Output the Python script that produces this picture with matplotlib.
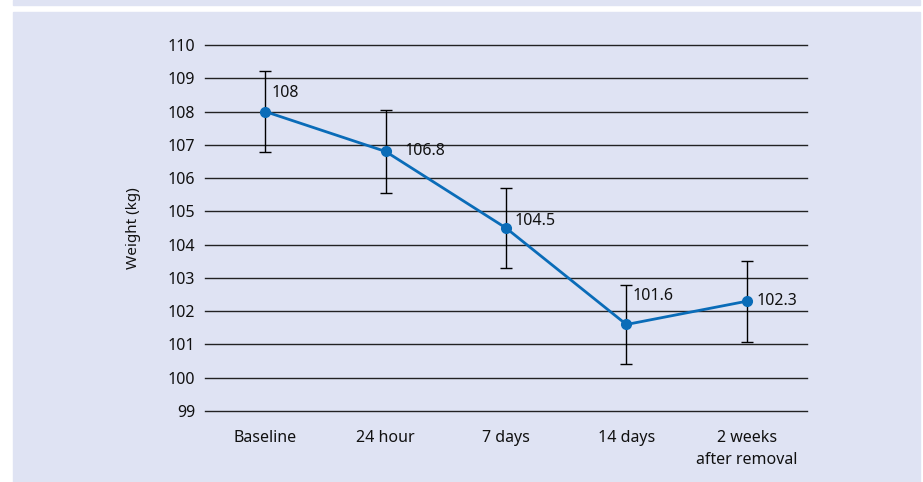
import matplotlib
matplotlib.use('Agg')
import matplotlib.pyplot as plt
from matplotlib.patches import Rectangle

# data
categories = ['Baseline', '24 hour', '7 days', '14 days', '2 weeks\nafter removal']
weights = [108.0, 106.8, 104.5, 101.6, 102.3]
errors = [1.22, 1.25, 1.2, 1.2, 1.22]
labels = ['108', '106.8', '104.5', '101.6', '102.3']

# label offsets in pixels (style only)
label_offsets = [(6, 19), (19, 0), (9, 7), (6, 28), (10, 0)]

BG = '#dfe3f3'
BLUE = '#0a6cb8'
TXT = '#111111'
FS = 11.5

plt.rcParams['font.family'] = ['Noto Sans', 'DejaVu Sans']

W, H = 923, 482
fig = plt.figure(figsize=(W / 100, H / 100), dpi=100)
fig.patch.set_facecolor('white')

# background panels
fig.add_artist(Rectangle((13 / W, 0), (920 - 13) / W, (H - 12) / H,
                         transform=fig.transFigure, color=BG, zorder=0))
fig.add_artist(Rectangle((13 / W, (H - 5) / H), (920 - 13) / W, 5 / H,
                         transform=fig.transFigure, color=BG, zorder=0))

ax = fig.add_axes([205 / W, (H - 411) / H, (807 - 205) / W, (411 - 45) / H])
ax.set_facecolor('none')
x = list(range(len(categories)))

ax.errorbar(x, weights, yerr=errors, fmt='none', ecolor='black',
            elinewidth=1, capsize=4, capthick=1, zorder=3)
ax.plot(x, weights, '-o', color=BLUE, lw=2, markersize=7, zorder=4)

for xi, yi, lab, off in zip(x, weights, labels, label_offsets):
    ax.annotate(lab, (xi, yi), xytext=off, textcoords='offset pixels',
                ha='left', va='center', fontsize=FS, color=TXT)

ax.set_xlim(-0.5, len(categories) - 0.5)
ax.set_ylim(99, 110)
ax.set_yticks(range(99, 111))
ax.set_xticks(x)
ax.set_xticklabels(categories, fontsize=FS, linespacing=1.5, color=TXT)
ax.tick_params(axis='y', length=0, pad=7, labelsize=FS, labelcolor=TXT)
ax.tick_params(axis='x', length=0, pad=14)
for s in ax.spines.values():
    s.set_visible(False)
ax.grid(axis='y', color='#222222', lw=1)
ax.set_axisbelow(True)
for gl in ax.get_ygridlines():
    gl.set_clip_on(False)

ax.set_ylabel('Weight (kg)', fontsize=FS - 0.5, labelpad=19, color=TXT)

fig.savefig('out.png', dpi=100, facecolor=fig.get_facecolor())
